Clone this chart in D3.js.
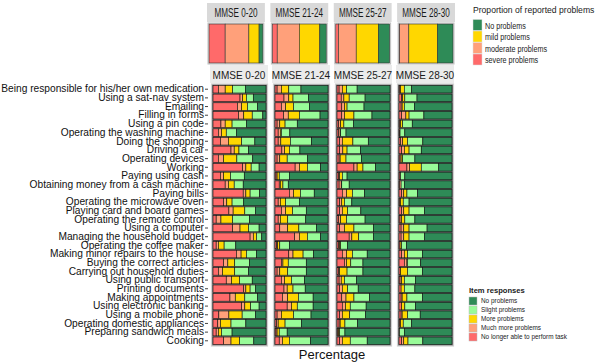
<!DOCTYPE html>
<html>
<head>
<meta charset="utf-8">
<script src="https://cdn.jsdelivr.net/npm/d3@7"></script>
<style>
  body { margin: 0; background: #fff; }
  svg { display: block; font-family: 'Liberation Sans', Arial, sans-serif; }
</style>
</head>
<body>
<div id="chart"></div>
<script>
// groups / panels
const groups = ['MMSE 0-20', 'MMSE 21-24', 'MMSE 25-27', 'MMSE 28-30']

const items = [
  'Being responsible for his/her own medication', 'Using a sat-nav system', 'Emailing',
  'Filling in forms', 'Using a pin code', 'Operating the washing machine', 'Doing the shopping',
  'Driving a car', 'Operating devices', 'Working', 'Paying using cash',
  'Obtaining money from a cash machine', 'Paying bills', 'Operating the microwave oven',
  'Playing card and board games', 'Operating the remote control', 'Using a computer',
  'Managing the household budget', 'Operating the coffee maker', 'Making minor repairs to the house',
  'Buying the correct articles', 'Carrying out household duties', 'Using public transport',
  'Printing documents', 'Making appointments', 'Using electronic banking', 'Using a mobile phone',
  'Operating domestic appliances', 'Preparing sandwich meals', 'Cooking'
]

// item responses, order: no longer able, much more, more, slight, no problems (%)
const responses = ['No longer able to perform task', 'Much more problems', 'More problems', 'Slight problems', 'No problems']
const responseColors = ['#ff6a6a', '#ffa07a', '#ffd700', '#98fb98', '#2e8b57']

const items0_20 = [
  [10,13,14,24,39],[51,5,7,13,24],[46,8,11,19,16],[48,10,16,20,6],[15,8,13,27,37],
  [10,6,9,19,56],[14,15,25,25,21],[34,6,9,18,33],[10,10,25,30,25],[56,6,10,15,13],
  [14,6,13,26,41],[23,6,11,17,43],[57,5,8,18,12],[20,6,10,22,42],[30,8,22,20,20],
  [6,9,22,32,31],[37,14,16,20,13],[70,6,6,10,8],[6,4,11,22,57],[44,9,10,19,18],
  [20,8,13,28,31],[10,8,23,26,33],[25,10,15,24,26],[58,4,8,10,20],[32,10,18,24,16],
  [54,6,11,16,13],[11,19,25,25,20],[9,5,20,28,38],[6,4,6,20,64],[20,14,16,27,23]
]
const items21_24 = [
  [4,8,14,23,51],[17,9,8,29,37],[12,8,15,30,35],[16,9,21,39,15],[4,5,10,23,58],
  [6,4,2,16,72],[6,5,18,40,31],[13,5,9,20,53],[4,5,14,38,39],[38,8,15,25,14],
  [2,2,4,19,73],[8,2,5,10,75],[27,8,13,26,26],[6,4,10,26,54],[12,8,13,26,41],
  [6,4,14,34,42],[9,15,21,33,22],[37,9,15,25,14],[3,2,4,18,73],[26,8,19,20,27],
  [12,3,10,34,41],[4,5,15,35,41],[12,6,13,25,44],[17,6,11,23,43],[14,10,20,28,28],
  [23,8,11,30,28],[4,8,23,33,32],[3,3,13,31,50],[2,2,4,15,77],[8,6,13,40,33]
]
const items25_27 = [
  [4,6,8,20,62],[8,5,10,30,47],[9,5,5,32,49],[9,5,18,34,34],[3,4,6,18,69],
  [3,3,1,10,83],[5,5,20,29,41],[5,6,8,25,56],[4,2,11,29,54],[32,6,11,24,27],
  [3,2,5,9,81],[4,4,1,14,77],[10,8,11,23,48],[5,4,5,14,72],[5,5,10,25,55],
  [3,4,11,35,47],[5,9,18,37,31],[23,5,13,28,31],[3,2,2,13,80],[10,8,11,28,43],
  [14,4,8,23,51],[3,2,14,30,51],[4,4,6,23,63],[5,5,10,20,60],[9,8,15,29,39],
  [10,6,9,30,45],[5,5,14,30,46],[4,2,9,24,61],[1,2,2,10,85],[5,5,15,32,43]
]
const items28_30 = [
  [1,2,7,14,76],[5,2,4,23,66],[4,2,4,19,71],[5,8,6,28,53],[1,2,4,18,75],
  [1,1,0,9,89],[3,4,9,29,55],[5,5,9,23,58],[2,2,3,23,70],[15,5,22,33,25],
  [2,1,0,8,89],[1,3,0,6,90],[5,4,6,20,65],[1,2,5,11,81],[5,4,10,29,52],
  [2,3,6,19,70],[4,5,10,34,47],[4,5,10,29,52],[2,0,3,9,86],[5,5,6,28,56],
  [10,5,1,25,59],[3,0,13,28,56],[2,3,5,21,69],[4,0,6,20,70],[4,2,9,29,56],
  [5,0,6,20,69],[4,2,10,24,60],[1,2,5,16,76],[1,0,0,9,90],[5,4,8,28,55]
]

// proportion of reported problems, order: severe, moderate, mild, no problems (%)
const levels = ['severe problems', 'moderate problems', 'mild problems', 'No problems']
const levelColors = ['#ff6a6a', '#ffa07a', '#ffd700', '#2e8b57']
const reported0_20 = [30, 44, 19, 7]
const reported21_24 = [9, 41, 38, 12]
const reported25_27 = [5, 33, 41, 21]
const reported28_30 = [1, 17, 53, 29]

const itemTables = [items0_20, items21_24, items25_27, items28_30]
const reportedTables = [reported0_20, reported21_24, reported25_27, reported28_30]

const width = 600
const height = 362

const svg = d3.select('#chart')
  .append('svg')
  .attr('width', width)
  .attr('height', height)

// squeeze text horizontally (the source picture is compressed)
function squeeze(sel, k) {
  sel.each(function () {
    const w = this.getComputedTextLength()
    d3.select(this).attr('textLength', w * k).attr('lengthAdjust', 'spacingAndGlyphs')
  })
}

/* ---------- top: proportion of reported problems ---------- */

const xTop = d3.scaleBand().domain(groups).range([209, 453]).paddingInner(0.15)

const topChart = svg.append('g')

topChart.selectAll('.strip-top')
  .data(groups)
  .enter()
  .append('rect')
  .attr('x', d => xTop(d) - 2)
  .attr('y', 3)
  .attr('width', xTop.bandwidth() + 4)
  .attr('height', 19)
  .attr('fill', '#d9d9d9')

topChart.selectAll('.strip-top-text')
  .data(groups)
  .enter()
  .append('text')
  .attr('x', d => xTop(d) + xTop.bandwidth() / 2)
  .attr('y', 17)
  .attr('text-anchor', 'middle')
  .style('font-size', '12px')
  .attr('fill', '#1a1a1a')
  .text(d => d)
  .call(squeeze, 0.68)

const levelKeys = levels.map((d, i) => 'l' + i)

groups.forEach((g, gi) => {
  const row = { group: g }
  reportedTables[gi].forEach((v, i) => { row['l' + i] = v })
  const series = d3.stack().keys(levelKeys).offset(d3.stackOffsetExpand)([row])
  const x = d3.scaleLinear().domain([0, 1]).range([xTop(g), xTop(g) + xTop.bandwidth()])

  topChart.append('rect')
    .attr('x', xTop(g) - 1)
    .attr('y', 23)
    .attr('width', xTop.bandwidth() + 2)
    .attr('height', 41)
    .attr('fill', 'none')
    .attr('stroke', '#bdbdbd')

  topChart.append('g')
    .selectAll('rect')
    .data(series)
    .enter()
    .append('rect')
    .attr('x', s => x(s[0][0]))
    .attr('width', s => x(s[0][1]) - x(s[0][0]))
    .attr('y', 24)
    .attr('height', 39)
    .attr('fill', (s, i) => levelColors[i])
    .attr('stroke', '#333')
    .attr('stroke-width', 0.6)
})

// legend: proportion of reported problems
const leg1 = svg.append('g').attr('transform', 'translate(473,0)')
leg1.append('text')
  .attr('x', 0)
  .attr('y', 13)
  .style('font-size', '8.6px')
  .attr('fill', '#1a1a1a')
  .text('Proportion of reported problems')

const leg1Order = [3, 2, 1, 0]
leg1.selectAll('.key')
  .data(leg1Order)
  .enter()
  .append('rect')
  .attr('x', 0)
  .attr('y', (d, i) => 19.5 + i * 11.5)
  .attr('width', 9)
  .attr('height', 11)
  .attr('fill', d => levelColors[d])
  .attr('stroke', '#ddd')
  .attr('stroke-width', 0.5)

leg1.selectAll('.label')
  .data(leg1Order)
  .enter()
  .append('text')
  .attr('x', 12)
  .attr('y', (d, i) => 28.5 + i * 11.5)
  .style('font-size', '9px')
  .attr('fill', '#1a1a1a')
  .text(d => levels[d])
  .call(squeeze, 0.8)

/* ---------- bottom: item responses ---------- */

const xPanel = d3.scaleBand().domain(groups).range([213, 452]).paddingInner(0.145)
const yPositionScale = d3.scaleBand().domain(items).range([85, 345]).paddingInner(0.13).paddingOuter(0.05)

// strips
svg.selectAll('.strip')
  .data(groups)
  .enter()
  .append('rect')
  .attr('x', d => xPanel(d) - 3)
  .attr('y', 65)
  .attr('width', xPanel.bandwidth() + 5)
  .attr('height', 18)
  .attr('fill', '#ebebeb')

svg.selectAll('.strip-text')
  .data(groups)
  .enter()
  .append('text')
  .attr('x', d => xPanel(d) + xPanel.bandwidth() / 2 - 0.5)
  .attr('y', 78.5)
  .attr('text-anchor', 'middle')
  .style('font-size', '11.5px')
  .attr('fill', '#1a1a1a')
  .text(d => d)
  .call(squeeze, 0.87)

const respKeys = responses.map((d, i) => 'r' + i)

groups.forEach((g, gi) => {
  const rows = items.map((item, i) => {
    const row = { item }
    itemTables[gi][i].forEach((v, k) => { row['r' + k] = v })
    return row
  })
  const series = d3.stack().keys(respKeys).offset(d3.stackOffsetExpand)(rows)
  const x = d3.scaleLinear().domain([0, 1]).range([xPanel(g), xPanel(g) + xPanel.bandwidth()])

  const panel = svg.append('g')

  panel.append('rect')
    .attr('x', xPanel(g) - 1.5)
    .attr('y', 84)
    .attr('width', xPanel.bandwidth() + 3)
    .attr('height', 262)
    .attr('fill', '#7d7d7d')
    .attr('stroke', '#cfcfcf')
    .attr('stroke-width', 1.2)

  panel.selectAll('g')
    .data(series)
    .enter()
    .append('g')
    .attr('fill', (s, i) => responseColors[i])
    .selectAll('rect')
    .data(s => s)
    .enter()
    .append('rect')
    .attr('x', d => x(d[0]))
    .attr('width', d => Math.max(0, x(d[1]) - x(d[0])))
    .attr('y', d => yPositionScale(d.data.item))
    .attr('height', yPositionScale.bandwidth())
    .attr('stroke', '#111')
    .attr('stroke-width', 0.6)
})

// y axis
const yAxis = d3.axisLeft(yPositionScale).tickSize(3).tickPadding(1)
svg.append('g')
  .attr('class', 'axis y-axis')
  .attr('transform', 'translate(208,0)')
  .call(yAxis)
  .call(g => g.select('.domain').remove())
  .call(g => g.selectAll('.tick line').attr('stroke', '#444'))
  .call(g => g.selectAll('.tick text')
    .attr('fill', '#111')
    .style('font-size', '10.2px')
    .style('font-family', "'Liberation Sans', Arial, sans-serif"))

// x axis title
svg.append('text')
  .attr('x', 332)
  .attr('y', 359)
  .attr('text-anchor', 'middle')
  .style('font-size', '13px')
  .attr('fill', '#111')
  .text('Percentage')

// legend: item responses
const leg2 = svg.append('g').attr('transform', 'translate(469,0)')
leg2.append('text')
  .attr('x', 0)
  .attr('y', 293)
  .style('font-size', '7.6px')
  .style('font-weight', 'bold')
  .attr('fill', '#1a1a1a')
  .text('Item responses')

const leg2Order = [4, 3, 2, 1, 0]
leg2.selectAll('.key')
  .data(leg2Order)
  .enter()
  .append('rect')
  .attr('x', 0)
  .attr('y', (d, i) => 297 + i * 9)
  .attr('width', 8)
  .attr('height', 8)
  .attr('fill', d => responseColors[d])
  .attr('stroke', '#bbb')
  .attr('stroke-width', 0.5)

leg2.selectAll('.label')
  .data(leg2Order)
  .enter()
  .append('text')
  .attr('x', 12)
  .attr('y', (d, i) => 303.3 + i * 9)
  .style('font-size', '6.4px')
  .attr('fill', '#1a1a1a')
  .text(d => responses[d])
</script>
</body>
</html>
